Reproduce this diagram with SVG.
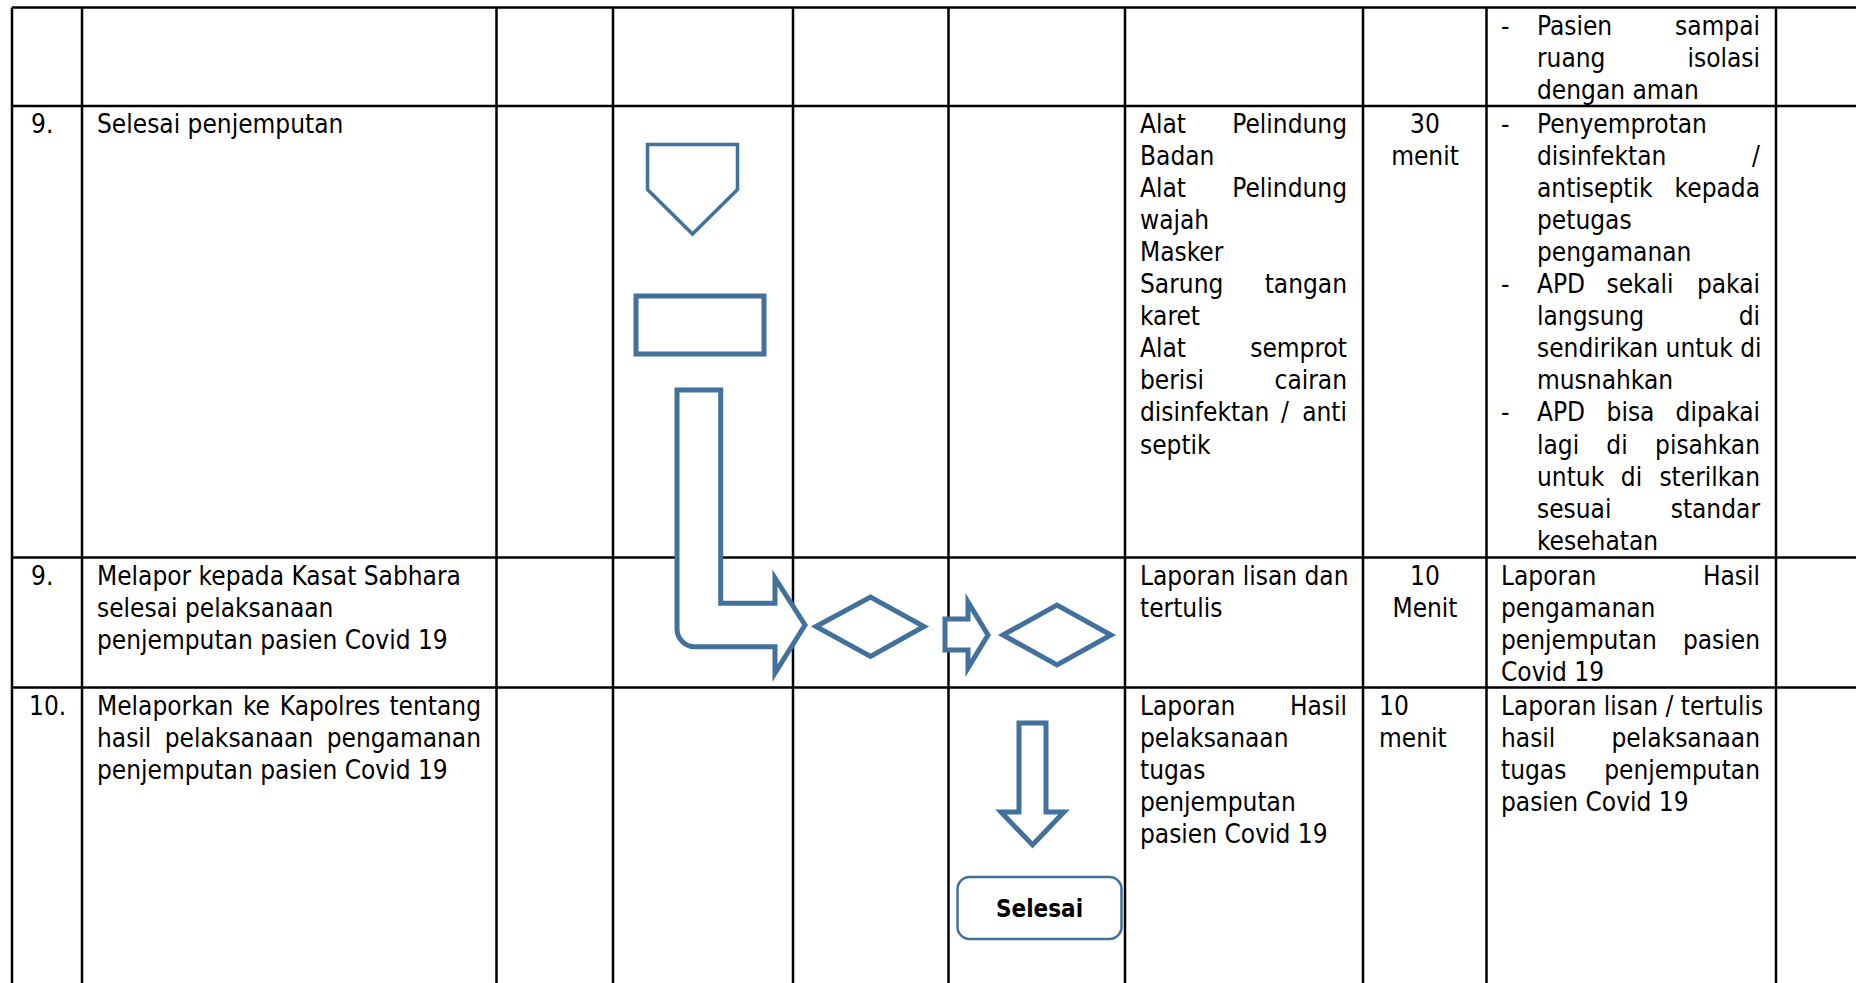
<svg xmlns="http://www.w3.org/2000/svg" width="1856" height="983" viewBox="0 0 1856 983">
<style>
.g{stroke:#000;stroke-width:2.5;fill:none}
.t{font-family:'DejaVu Sans Condensed','DejaVu Sans',sans-serif;font-stretch:condensed;font-size:26px;fill:#000}
.e{text-anchor:end}
.m{text-anchor:middle}
.s{fill:#fff;stroke:#41719C;stroke-width:5;stroke-linejoin:miter}
.th{fill:#fff;stroke:#41719C;stroke-width:3.5}
.b{font-family:'DejaVu Sans Condensed','DejaVu Sans',sans-serif;font-stretch:condensed;font-size:24px;font-weight:bold;fill:#000;text-anchor:middle}
</style>
<rect width="1856" height="983" fill="#fff"/>
<g id="table">
<path class="g" d="M12,7.5H1856M12,106H1856M12,557.5H1856M12,687.5H1856"/>
<path class="g" d="M12,7.5V983M82,7.5V983M496.5,7.5V983M613,7.5V983M793,7.5V983M948.5,7.5V983M1125,7.5V983M1363,7.5V983M1486.5,7.5V983M1776,7.5V983"/>
</g>
<g id="row-header-tail">
<text class="t" x="1501" y="35">-</text>
<text class="t" x="1537" y="35">Pasien</text><text class="t e" x="1760" y="35">sampai</text>
<text class="t" x="1537" y="67">ruang</text><text class="t e" x="1760" y="67">isolasi</text>
<text class="t" x="1537" y="99">dengan aman</text>
</g>
<g id="row-9a">
<text class="t" x="31" y="132.5">9.</text>
<text class="t" x="97" y="132.5">Selesai penjemputan</text>
<text class="t" x="1140" y="132.5">Alat</text><text class="t e" x="1347" y="132.5">Pelindung</text>
<text class="t" x="1140" y="164.6">Badan</text>
<text class="t" x="1140" y="196.7">Alat</text><text class="t e" x="1347" y="196.7">Pelindung</text>
<text class="t" x="1140" y="228.8">wajah</text>
<text class="t" x="1140" y="260.9">Masker</text>
<text class="t" x="1140" y="293">Sarung</text><text class="t e" x="1347" y="293">tangan</text>
<text class="t" x="1140" y="325.1">karet</text>
<text class="t" x="1140" y="357.2">Alat</text><text class="t e" x="1347" y="357.2">semprot</text>
<text class="t" x="1140" y="389.3">berisi</text><text class="t e" x="1347" y="389.3">cairan</text>
<text class="t" x="1140" y="421.4">disinfektan</text><text class="t m" x="1285" y="421.4">/</text><text class="t e" x="1347" y="421.4">anti</text>
<text class="t" x="1140" y="453.5">septik</text>
<text class="t m" x="1425" y="132.5">30</text>
<text class="t m" x="1425" y="164.6">menit</text>
<text class="t" x="1501" y="132.5">-</text>
<text class="t" x="1537" y="132.5">Penyemprotan</text>
<text class="t" x="1537" y="164.6">disinfektan</text><text class="t e" x="1760" y="164.6">/</text>
<text class="t" x="1537" y="196.7">antiseptik</text><text class="t e" x="1760" y="196.7">kepada</text>
<text class="t" x="1537" y="228.8">petugas</text>
<text class="t" x="1537" y="260.9">pengamanan</text>
<text class="t" x="1501" y="293">-</text>
<text class="t" x="1537" y="293">APD</text><text class="t m" x="1640" y="293">sekali</text><text class="t e" x="1760" y="293">pakai</text>
<text class="t" x="1537" y="325.1">langsung</text><text class="t e" x="1760" y="325.1">di</text>
<text class="t" x="1537" y="357.2">sendirikan untuk di</text>
<text class="t" x="1537" y="389.3">musnahkan</text>
<text class="t" x="1501" y="421.4">-</text>
<text class="t" x="1537" y="421.4">APD</text><text class="t m" x="1630.5" y="421.4">bisa</text><text class="t e" x="1760" y="421.4">dipakai</text>
<text class="t" x="1537" y="453.5">lagi</text><text class="t m" x="1617" y="453.5">di</text><text class="t e" x="1760" y="453.5">pisahkan</text>
<text class="t" x="1537" y="485.6">untuk</text><text class="t m" x="1631.5" y="485.6">di</text><text class="t e" x="1760" y="485.6">sterilkan</text>
<text class="t" x="1537" y="517.7">sesuai</text><text class="t e" x="1760" y="517.7">standar</text>
<text class="t" x="1537" y="549.8">kesehatan</text>
</g>
<g id="row-9b">
<text class="t" x="31" y="584.5">9.</text>
<text class="t" x="97" y="584.5">Melapor kepada Kasat Sabhara</text>
<text class="t" x="97" y="616.6">selesai pelaksanaan</text>
<text class="t" x="97" y="648.7">penjemputan pasien Covid 19</text>
<text class="t" x="1140" y="584.5">Laporan lisan dan</text>
<text class="t" x="1140" y="616.6">tertulis</text>
<text class="t m" x="1425" y="584.5">10</text>
<text class="t m" x="1425" y="616.6">Menit</text>
<text class="t" x="1501" y="584.5">Laporan</text><text class="t e" x="1760" y="584.5">Hasil</text>
<text class="t" x="1501" y="616.6">pengamanan</text>
<text class="t" x="1501" y="648.7">penjemputan</text><text class="t e" x="1760" y="648.7">pasien</text>
<text class="t" x="1501" y="680.8">Covid 19</text>
</g>
<g id="row-10">
<text class="t" x="29" y="714.5">10.</text>
<text class="t" x="97" y="714.5">Melaporkan</text><text class="t m" x="256.5" y="714.5">ke</text><text class="t m" x="330" y="714.5">Kapolres</text><text class="t e" x="481" y="714.5">tentang</text>
<text class="t" x="97" y="746.6">hasil</text><text class="t m" x="239" y="746.6">pelaksanaan</text><text class="t e" x="481" y="746.6">pengamanan</text>
<text class="t" x="97" y="778.7">penjemputan pasien Covid 19</text>
<text class="t" x="1140" y="714.5">Laporan</text><text class="t e" x="1347" y="714.5">Hasil</text>
<text class="t" x="1140" y="746.6">pelaksanaan</text>
<text class="t" x="1140" y="778.7">tugas</text>
<text class="t" x="1140" y="810.8">penjemputan</text>
<text class="t" x="1140" y="842.9">pasien Covid 19</text>
<text class="t" x="1379" y="714.5">10</text>
<text class="t" x="1379" y="746.6">menit</text>
<text class="t" x="1501" y="714.5">Laporan lisan / tertulis</text>
<text class="t" x="1501" y="746.6">hasil</text><text class="t e" x="1760" y="746.6">pelaksanaan</text>
<text class="t" x="1501" y="778.7">tugas</text><text class="t e" x="1760" y="778.7">penjemputan</text>
<text class="t" x="1501" y="810.8">pasien Covid 19</text>
</g>
<g id="offpage-connector">
<path class="th" d="M647.5,144.5H737.5V189.5L692.5,234L647.5,189.5Z"/>
</g>
<g id="process-box">
<rect class="s" x="636" y="296" width="128" height="58"/>
</g>
<g id="decision-1">
<path class="s" d="M816,626.5L870.5,597L924,626.5L870.5,656.5Z"/>
</g>
<g id="decision-2">
<path class="s" d="M1003,635L1057,605L1111,635L1057,665Z"/>
</g>
<g id="selesai">
<rect x="957.5" y="877" width="164" height="62" rx="12" fill="#fff" stroke="#41719C" stroke-width="2.5"/>
<text class="b" x="1039.5" y="917">Selesai</text>
</g>
<g id="connectors">
<path class="s" d="M677,390H720.7V603.3H775V578L805,625L775,673V646.7H695A18,18 0 0 1 677,628.7Z"/>
<path class="s" d="M945,619H968V602L988,635L968,668V650H945Z"/>
<path class="s" d="M1019,723H1046V812H1064L1032.5,845L1001,812H1019Z"/>
</g>
</svg>
